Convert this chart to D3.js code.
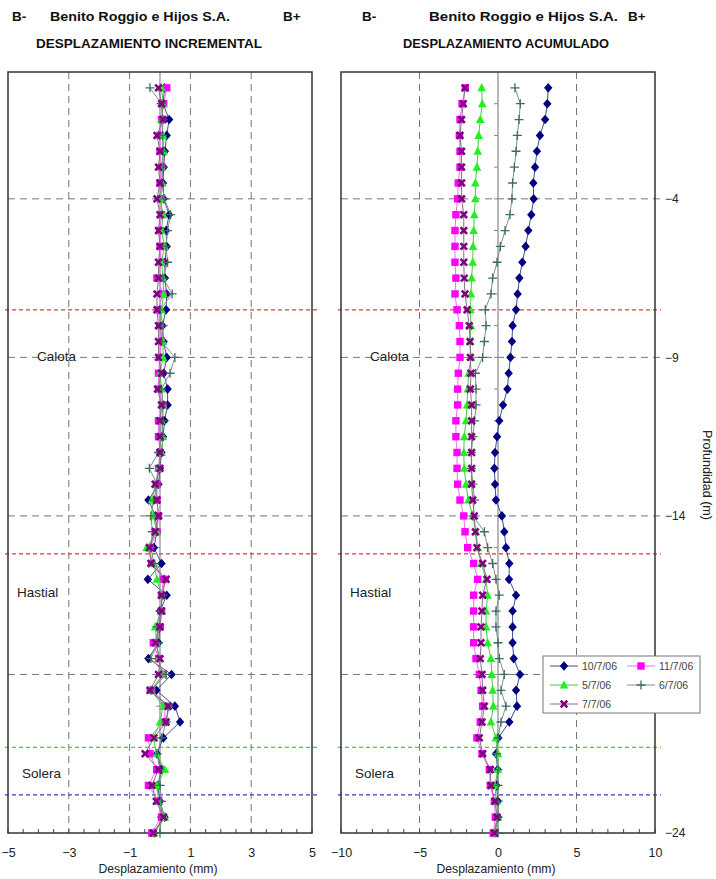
<!DOCTYPE html>
<html><head><meta charset="utf-8">
<script src="https://cdn.jsdelivr.net/npm/d3@7"></script>
<style>
body{margin:0;background:#fff}
svg{display:block}
text{font-family:"Liberation Sans",Arial,sans-serif}
</style>
</head><body>
<svg id="c" width="716" height="879"></svg>
<script>
// ---------- DATA ----------
const depths = [-0.5,-1,-1.5,-2,-2.5,-3,-3.5,-4,-4.5,-5,-5.5,-6,-6.5,-7,-7.5,-8,-8.5,-9,-9.5,-10,-10.5,-11,-11.5,-12,-12.5,-13,-13.5,-14,-14.5,-15,-15.5,-16,-16.5,-17,-17.5,-18,-18.5,-19,-19.5,-20,-20.5,-21,-21.5,-22,-22.5,-23,-23.5,-24];
const seriesNames = ["10/7/06","11/7/06","5/7/06","6/7/06","7/7/06"];

// Incremental displacement (mm)
const inc_10 = [0.15,0.1,0.3,0.22,0.16,0.12,0.1,0.12,0.3,0.2,0.22,0.16,0.16,0.22,0.2,0.08,0.12,0.22,0.12,0.25,0.25,0.15,0.1,0.05,0,-0.05,-0.38,-0.15,-0.1,-0.2,0.05,-0.4,0.22,0,0,-0.05,-0.38,0.38,-0.12,0.49,0.66,0.11,-0.1,0.05,-0.08,0,0.15,-0.2];
const inc_11 = [0.22,0.12,0.05,0,0,0.05,0,0.05,0.05,0,0,0.05,-0.1,0.1,-0.05,0,0.05,0,-0.05,-0.05,0.1,-0.05,-0.05,0,-0.05,-0.1,-0.1,-0.05,-0.1,-0.33,-0.27,0.11,0.05,0.05,0,-0.22,-0.05,0.11,-0.27,0.16,0.16,-0.38,-0.33,-0.11,-0.38,-0.05,0.05,-0.27];
const inc_5 = [0.05,0.1,0.05,0.1,0.12,0.05,0.08,0,0.1,0.05,0.15,0.05,0.1,0.12,0.05,0,0.1,0.1,0,0.05,0.1,0.05,0.1,0.05,-0.05,-0.15,-0.27,-0.22,-0.1,-0.44,-0.2,-0.1,0.05,0.05,-0.16,-0.1,-0.05,0.1,-0.3,0.1,0,-0.22,-0.11,0.16,-0.1,-0.05,0.16,-0.2];
const inc_6 = [-0.33,0.05,0.1,0.08,0.1,0.1,0.05,0.15,0.35,0.25,0.2,0.25,0.1,0.4,0,0.1,0.05,0.49,0.33,0.05,0.1,0.1,0.05,-0.05,-0.35,-0.1,-0.2,-0.3,-0.25,-0.3,-0.2,0.15,0.1,0,-0.1,-0.05,-0.3,0.2,-0.3,0.3,0.2,0.05,-0.1,0,0,0.05,0.05,0];
const inc_7 = [-0.05,0.05,0.1,-0.1,0,-0.05,0,-0.1,0,-0.05,0,-0.05,-0.05,-0.1,-0.1,-0.05,-0.05,-0.05,0.05,-0.08,0.05,0,0,0,0,-0.16,-0.1,-0.05,-0.16,-0.35,-0.3,0.2,0.05,0.05,0,-0.15,0,-0.05,-0.33,0.27,0.2,-0.2,-0.49,-0.05,-0.27,-0.12,0.12,-0.22];

// Accumulated displacement (mm)
const acc_10 = [3.2,3.14,3.0,2.67,2.48,2.36,2.25,2.27,2.12,1.93,1.76,1.55,1.36,1.25,1.15,0.93,0.89,0.79,0.68,0.6,0.32,0.08,-0.06,-0.19,-0.23,-0.19,-0.13,0.25,0.4,0.51,0.72,0.7,1.15,0.93,0.93,0.93,1.0,1.4,1.15,1.21,0.72,0.02,-0.13,-0.02,-0.1,0,0,-0.2];
const acc_11 = [-2.08,-2.29,-2.42,-2.46,-2.42,-2.42,-2.53,-2.57,-2.68,-2.74,-2.74,-2.74,-2.68,-2.74,-2.61,-2.46,-2.42,-2.42,-2.53,-2.57,-2.57,-2.68,-2.68,-2.61,-2.61,-2.57,-2.42,-2.18,-2.1,-1.93,-1.55,-1.29,-1.55,-1.55,-1.55,-1.55,-1.4,-1.19,-1.08,-0.98,-1.13,-1.34,-1.02,-0.55,-0.49,-0.23,-0.17,-0.3];
const acc_5 = [-1.04,-1.0,-1.13,-1.23,-1.29,-1.34,-1.44,-1.44,-1.51,-1.55,-1.59,-1.61,-1.68,-1.72,-1.76,-1.72,-1.78,-1.72,-1.87,-1.93,-1.97,-2.04,-2.15,-2.18,-2.15,-2.04,-1.89,-1.61,-1.4,-1.29,-1.08,-0.76,-0.66,-0.76,-0.76,-0.66,-0.45,-0.4,-0.34,-0.3,-0.45,-0.13,0,0,-0.2,-0.1,0,-0.2];
const acc_6 = [1.08,1.42,1.34,1.23,1.15,1.04,0.93,0.89,0.76,0.45,0.15,-0.06,-0.34,-0.45,-0.81,-0.76,-0.87,-0.98,-1.44,-1.4,-1.4,-1.5,-1.6,-1.7,-1.7,-1.6,-1.5,-1.6,-0.87,-0.66,-0.34,-0.13,0.08,-0.13,-0.13,0,0.08,0.4,0.19,0.51,0.19,0,-0.1,0,0,0,0,0];
const acc_7 = [-2.1,-2.21,-2.32,-2.42,-2.32,-2.32,-2.32,-2.32,-2.18,-2.18,-2.18,-2.18,-2.15,-2.1,-1.97,-1.83,-1.78,-1.76,-1.72,-1.76,-1.68,-1.68,-1.68,-1.68,-1.68,-1.68,-1.61,-1.51,-1.44,-1.34,-0.98,-0.7,-0.98,-1.02,-1.08,-1.08,-1.13,-1.02,-0.98,-0.87,-1.02,-1.19,-0.98,-0.49,-0.45,-0.19,-0.06,-0.23];

const incTicks = [-5,-3,-1,1,3,5];
const accTicks = [-10,-5,0,5,10];
const depthTickLabels = [-4,-9,-14,-24];
const gridDepths = [-4,-9,-14,-19];
const zoneNames = ["Calota","Hastial","Solera"];
const zoneDepths = [-8.95,-16.4,-22.1];
const boundaryDepths = [-7.5,-15.2,-21.3,-22.8];
const boundaryColors = ["#e03a3a","#e03a3a","#33dd33","#3a3ad0"];

// ---------- STYLE ----------
const styles = [
  {color:"#000080", line:"#4a4a90", marker:"diamond"},
  {color:"#ff00ff", line:"#ff66ff", marker:"square"},
  {color:"#22ee22", line:"#44cc44", marker:"triangle"},
  {color:"#3d6b60", line:"#7f918c", marker:"plus"},
  {color:"#800080", line:"#8a6a8a", marker:"x"}
];

const svg = d3.select("#c");
const y = d3.scaleLinear().domain([-24,0]).range([833,72]);
const xL = d3.scaleLinear().domain([-5,5]).range([8,312]);
const xR = d3.scaleLinear().domain([-10,10]).range([341,655]);

function markerPath(type){
  switch(type){
    case "diamond": return "M0,-4.8L4.2,0L0,4.8L-4.2,0Z";
    case "square": return "M-3.7,-3.7H3.7V3.7H-3.7Z";
    case "triangle": return "M0,-4.8L4.3,3.5H-4.3Z";
    case "plus": return "M-4.5,0H4.5M0,-4.5V4.5";
    case "x": return "M-3.3,-3.3L3.3,3.3M3.3,-3.3L-3.3,3.3";
  }
}
function drawMarker(g, type, color){
  const p = g.append("path").attr("d", markerPath(type));
  if(type==="plus"){ p.attr("fill","none").attr("stroke",color).attr("stroke-width",1.3); }
  else if(type==="x"){ p.attr("fill","none").attr("stroke",color).attr("stroke-width",2.6); }
  else p.attr("fill",color);
}

function panel(x, ticks, minorStep, seriesData, showDepthAxis){
  const [x0,x1] = x.range();
  const g = svg.append("g");
  g.selectAll(".vg").data(ticks.filter(t=>t!==0 && t!==x.domain()[0] && t!==x.domain()[1]))
    .join("line").attr("x1",d=>x(d)).attr("x2",d=>x(d)).attr("y1",72).attr("y2",833)
    .attr("stroke","#777").attr("stroke-width",1).attr("stroke-dasharray","7,5");
  g.selectAll(".hg").data(gridDepths).join("line")
    .attr("x1",x0).attr("x2",x1+ (showDepthAxis?6:0)).attr("y1",d=>y(d)).attr("y2",d=>y(d))
    .attr("stroke","#777").attr("stroke-width",1).attr("stroke-dasharray","7,5");
  g.selectAll(".bd").data(boundaryDepths).join("line")
    .attr("x1",x0-3).attr("x2",x1+6).attr("y1",d=>y(d)).attr("y2",d=>y(d))
    .attr("stroke",(d,i)=>boundaryColors[i]).attr("stroke-width",1.3).attr("stroke-dasharray","4,3");
  g.append("line").attr("x1",x(0)).attr("x2",x(0)).attr("y1",72).attr("y2",833)
    .attr("stroke","#888").attr("stroke-width",1.2);
  const ym = d3.range(-23,0,1);
  g.selectAll(".ym").data(ym).join("line")
    .attr("x1",x(0)-4).attr("x2",x(0)).attr("y1",d=>y(d)).attr("y2",d=>y(d))
    .attr("stroke","#888").attr("stroke-width",1);
  const xm = d3.range(x.domain()[0], x.domain()[1]+1e-9, minorStep);
  g.selectAll(".xm").data(xm).join("line")
    .attr("x1",d=>x(d)).attr("x2",d=>x(d)).attr("y1",833).attr("y2",829)
    .attr("stroke","#444").attr("stroke-width",1);
  g.append("rect").attr("x",x0).attr("y",72).attr("width",x1-x0).attr("height",833-72)
    .attr("fill","none").attr("stroke","#333").attr("stroke-width",1.5);
  const ax = g.append("g").attr("transform","translate(0,833)")
    .call(d3.axisBottom(x).tickValues(ticks).tickSize(0).tickPadding(15).tickFormat(d3.format("d")));
  ax.select(".domain").remove();
  ax.selectAll("text").attr("font-size",12.5).attr("fill","#222").style("font-family","'Liberation Sans',Arial,sans-serif");
  g.append("text").attr("x",(x0+x1)/2 - 2).attr("y",873).attr("text-anchor","middle")
    .attr("font-size",12.5).attr("fill","#222")
    .attr("textLength",119).attr("lengthAdjust","spacingAndGlyphs").text("Desplazamiento (mm)");
  g.selectAll(".zl").data(zoneNames).join("text")
    .attr("x",(d,i)=> x0 + (i===0?29:(i===1?9:14)))
    .attr("y",(d,i)=>y(zoneDepths[i])+5)
    .attr("font-size",13.5).attr("fill","#222").text(d=>d);
  seriesData.forEach((vals,si)=>{
    const st = styles[si];
    const pts = depths.map((d,i)=>[x(vals[i]), y(d)]);
    g.append("path").attr("d", d3.line()(pts)).attr("fill","none")
      .attr("stroke",st.line).attr("stroke-width",1);
    pts.forEach(p=>{
      const mg = g.append("g").attr("transform",`translate(${p[0]},${p[1]})`);
      drawMarker(mg, st.marker, st.color);
    });
  });
  if(showDepthAxis){
    const ay = g.append("g").attr("transform",`translate(${x1},0)`)
      .call(d3.axisRight(y).tickValues(depthTickLabels).tickSize(0).tickPadding(10).tickFormat(d3.format("d")));
    ay.select(".domain").remove();
    ay.selectAll("text").attr("font-size",12).attr("fill","#222").style("font-family","'Liberation Sans',Arial,sans-serif");
    svg.append("text").attr("transform",`translate(703,475) rotate(90)`).attr("text-anchor","middle")
      .attr("font-size",12).attr("fill","#222").attr("textLength",90).attr("lengthAdjust","spacingAndGlyphs").text("Profundidad (m)");
  }
}

panel(xL, incTicks, 0.5, [inc_10,inc_11,inc_5,inc_6,inc_7], false);
panel(xR, accTicks, 1, [acc_10,acc_11,acc_5,acc_6,acc_7], true);

// headers
function header(bx, cx, cw, bpx, sub, subx, subw){
  svg.append("text").attr("x",bx).attr("y",21).attr("font-size",13.5).attr("font-weight","bold").attr("fill","#111").text("B-");
  svg.append("text").attr("x",cx).attr("y",21).attr("font-size",13.5).attr("font-weight","bold").attr("fill","#111")
    .attr("textLength",cw).attr("lengthAdjust","spacingAndGlyphs").text("Benito Roggio e Hijos S.A.");
  svg.append("text").attr("x",bpx).attr("y",21).attr("font-size",13.5).attr("font-weight","bold").attr("fill","#111").text("B+");
  svg.append("text").attr("x",subx).attr("y",48).attr("font-size",12).attr("font-weight","bold").attr("fill","#111")
    .attr("textLength",subw).attr("lengthAdjust","spacingAndGlyphs").text(sub);
}
header(12, 50, 180, 283, "DESPLAZAMIENTO INCREMENTAL", 36, 226);
header(362, 429, 189, 628, "DESPLAZAMIENTO ACUMULADO", 403, 206);

// legend
const lg = svg.append("g");
lg.append("rect").attr("x",543).attr("y",656).attr("width",157).attr("height",57)
  .attr("fill","#fff").attr("stroke","#777").attr("stroke-width",1);
const legendPos = [[550,666],[627,666],[550,685],[627,685],[550,704]];
seriesNames.forEach((name,i)=>{
  const [lx,ly] = legendPos[i];
  const st = styles[i];
  lg.append("line").attr("x1",lx).attr("x2",lx+28).attr("y1",ly).attr("y2",ly).attr("stroke",st.line).attr("stroke-width",1);
  const mg = lg.append("g").attr("transform",`translate(${lx+14},${ly})`);
  drawMarker(mg, st.marker, st.color);
  lg.append("text").attr("x",lx+32).attr("y",ly+3.5).attr("font-size",10.5).attr("fill","#444").text(name);
});
</script>
</body></html>
